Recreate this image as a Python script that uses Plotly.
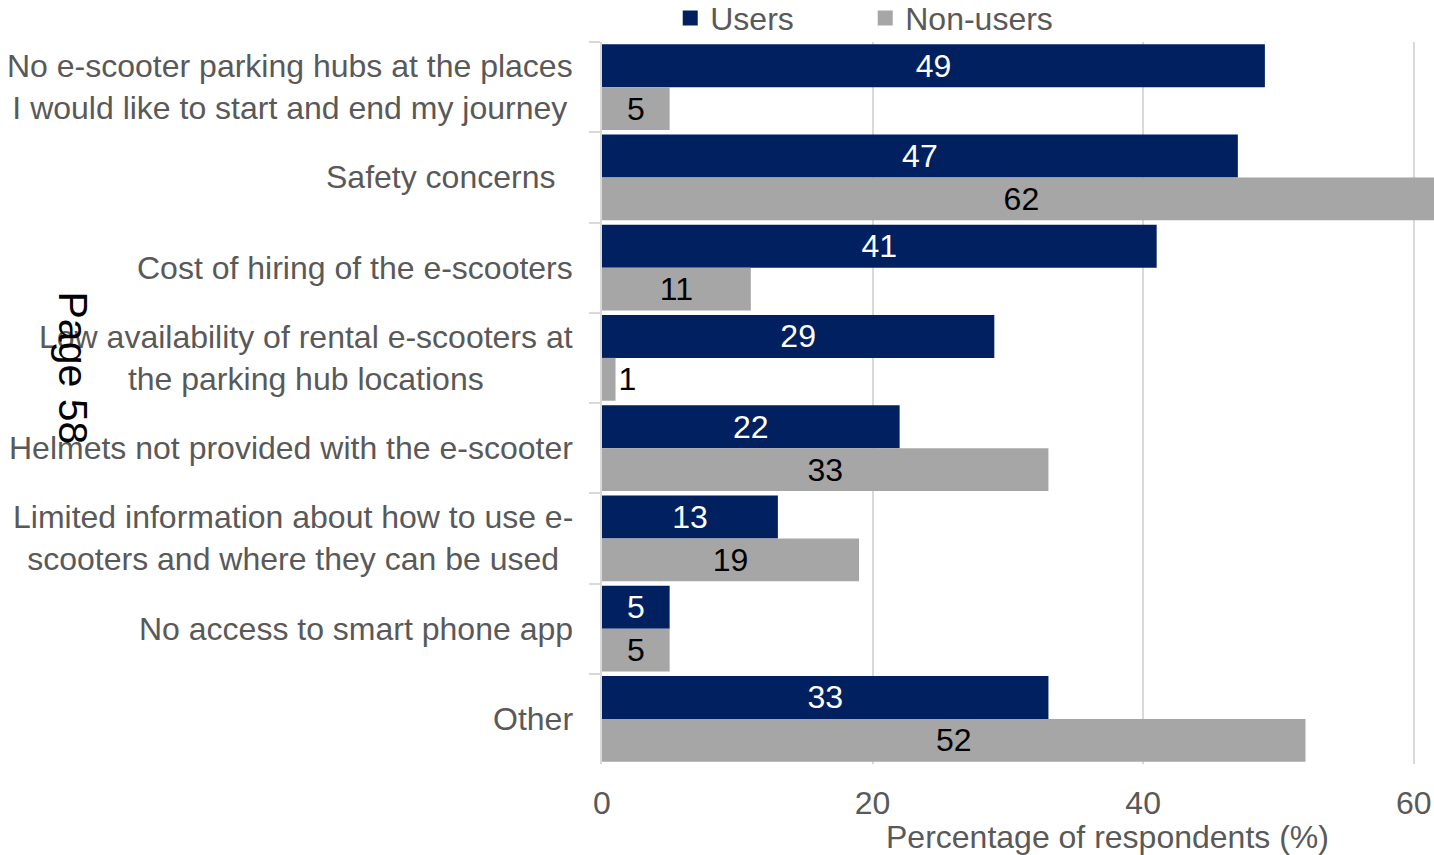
import plotly.graph_objects as go

# Survey results: barriers to using e-scooters, users vs non-users (%)
categories = [
    "No e-scooter parking hubs at the places<br>I would like to start and end my journey",
    "Safety concerns\u00a0\u00a0",
    "Cost of hiring of the e-scooters",
    "Low availability of rental e-scooters at<br>the parking hub locations",
    "Helmets not provided with the e-scooter",
    "Limited information about how to use e-<br>scooters and where they can be used",
    "No access to smart phone app",
    "Other",
]
users = [49, 47, 41, 29, 22, 13, 5, 33]
non_users = [5, 62, 11, 1, 33, 19, 5, 52]
x_ticks = [0, 20, 40, 60]

FONT = "Liberation Sans, Arial, sans-serif"
FS = 32
GREY_TEXT = "#595959"
NAVY = "#002060"
GREY_BAR = "#A6A6A6"

fig = go.Figure()
fig.add_trace(go.Bar(
    name="Users", y=categories, x=users, orientation="h",
    marker=dict(color=NAVY, line=dict(width=0)),
    text=[str(v) for v in users], textposition="inside",
    insidetextanchor="middle",
    insidetextfont=dict(color="white", size=FS, family=FONT),
    showlegend=False,
))
fig.add_trace(go.Bar(
    name="Non-users", y=categories, x=non_users, orientation="h",
    marker=dict(color=GREY_BAR, line=dict(width=0)),
    text=[str(v) for v in non_users],
    textposition=["outside" if v < 3 else "inside" for v in non_users],
    insidetextanchor="middle",
    insidetextfont=dict(color="black", size=FS, family=FONT),
    outsidetextfont=dict(color="black", size=FS, family=FONT),
    cliponaxis=True,
    showlegend=False,
))

# Legend entries with square swatches
for name, color in [("Users", NAVY), ("Non-users", GREY_BAR)]:
    fig.add_trace(go.Scatter(
        x=[None], y=[None], mode="markers", name=name,
        marker=dict(symbol="square", size=15, color=color),
    ))

# Category labels: lines centred, block right-aligned to the axis
for cat in categories:
    fig.add_annotation(
        x=-0.033, xref="paper", y=cat, yref="y",
        text=cat, showarrow=False, xanchor="right", yanchor="middle",
        align="center",
        font=dict(size=FS, color=GREY_TEXT, family=FONT),
    )

# x-axis title
fig.add_annotation(
    x=0.608, xref="paper", y=-0.101, yref="paper",
    text="Percentage of respondents (%)", showarrow=False,
    xanchor="center", yanchor="middle",
    font=dict(size=FS, color=GREY_TEXT, family=FONT),
)

# Page stamp
fig.add_annotation(
    x=-0.636, xref="paper", y=0.548, yref="paper",
    text="Page 58", showarrow=False, textangle=90,
    xanchor="center", yanchor="middle",
    font=dict(size=41, color="black", family=FONT),
)

fig.update_layout(
    width=1434, height=855,
    margin=dict(l=602, r=0, t=42, b=91, autoexpand=False),
    barmode="group", bargap=0.05, bargroupgap=0,
    plot_bgcolor="white", paper_bgcolor="white",
    font=dict(family=FONT, size=FS, color=GREY_TEXT),
    uniformtext=dict(minsize=FS, mode="show"),
    showlegend=True,
    legend=dict(
        orientation="h", x=0.082, xanchor="left", y=1.033, yanchor="middle",
        font=dict(size=FS, color=GREY_TEXT, family=FONT),
        entrywidth=150, entrywidthmode="pixels",
        bgcolor="rgba(0,0,0,0)",
    ),
    xaxis=dict(
        range=[0, 61.5], tickvals=x_ticks, ticktext=[str(t) for t in x_ticks],
        showgrid=True, gridcolor="#d9d9d9", gridwidth=1.5,
        zeroline=False, showline=False, ticks="",
        ticklabelstandoff=17,
        tickfont=dict(size=FS, color=GREY_TEXT, family=FONT),
    ),
    yaxis=dict(
        autorange="reversed", showticklabels=False,
        ticks="outside", tickson="boundaries", ticklen=11,
        tickcolor="#d9d9d9", tickwidth=1.5,
        showline=True, linecolor="#d9d9d9", linewidth=1.5,
        showgrid=False, zeroline=False,
    ),
)

fig.write_html("out.html")
